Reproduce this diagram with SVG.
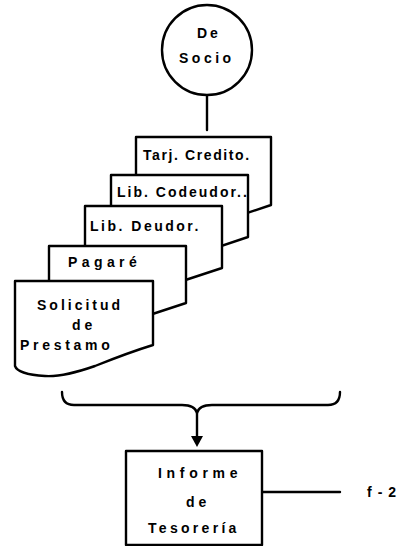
<svg xmlns="http://www.w3.org/2000/svg" width="403" height="546" viewBox="0 0 403 546">
  <style>
    .ln { fill: none; stroke: #000; stroke-width: 2.4; stroke-linejoin: round; stroke-linecap: round; }
    .shape { fill: #fff; stroke: #000; stroke-width: 2.4; stroke-linejoin: round; }
    .t { font-family: "Liberation Sans", Arial, sans-serif; font-weight: bold; font-size: 14px; fill: #000; }
  </style>
  <defs>
    <marker id="arrow" viewBox="0 0 12 10" refX="6" refY="10" markerWidth="12" markerHeight="10" markerUnits="userSpaceOnUse" orient="auto-start-reverse">
      <path d="M0,0 L12,0 L6,10 Z" fill="#000"/>
    </marker>
  </defs>
  <rect width="403" height="546" fill="#fff"/>

  <!-- connectors -->
  <g id="connectors">
    <line class="ln" x1="207" y1="95" x2="207" y2="130"/>
    <!-- brace gathering the documents -->
    <path class="ln" d="M62,392 Q62,405 74,405 L182,405 Q195,405 197,413 Q199,405 212,405 L328,405 Q340,405 340,392"/>
    <line class="ln" x1="197" y1="413" x2="197" y2="437"/>
    <path d="M191,436 L203,436 L197,447 Z" fill="#000"/>
    <line class="ln" x1="262" y1="492" x2="340" y2="492"/>
  </g>

  <!-- source -->
  <g id="socio">
    <circle class="shape" cx="207" cy="50" r="45"/>
    <text class="t" x="197" y="38" font-size="15" letter-spacing="3">De</text>
    <text class="t" x="179" y="63" font-size="15" letter-spacing="3.5">Socio</text>
  </g>

  <!-- stacked documents, back to front -->
  <g id="doc-tarjeta">
    <path class="shape" d="M136,137 H271 V205 L136,250 Z"/>
    <text class="t" x="143" y="160" letter-spacing="1.6">Tarj. Credito.</text>
  </g>
  <g id="doc-codeudor">
    <path class="shape" d="M111,175 H248 V237 L111,283 Z"/>
    <text class="t" x="117" y="197" letter-spacing="2">Lib. Codeudor..</text>
  </g>
  <g id="doc-deudor">
    <path class="shape" d="M85,206 H222 V268 L85,313 Z"/>
    <text class="t" x="90" y="231" letter-spacing="2.5">Lib. Deudor.</text>
  </g>
  <g id="doc-pagare">
    <path class="shape" d="M49,246 H186 V303 L49,348 Z"/>
    <text class="t" x="68" y="267" letter-spacing="4.4">Pagaré</text>
  </g>
  <g id="doc-solicitud">
    <path class="shape" d="M15,281 H153 V345 C140,349 120,356 95,366 C75,373 60,377 45,376 C28,375 17,372 15,366 Z"/>
    <text class="t" x="37" y="310" letter-spacing="3">Solicitud</text>
    <text class="t" x="72" y="330" letter-spacing="4">de</text>
    <text class="t" x="20" y="350" letter-spacing="3.7">Prestamo</text>
  </g>

  <!-- result -->
  <g id="informe">
    <rect class="shape" x="126" y="451" width="136" height="94"/>
    <text class="t" x="158" y="478" letter-spacing="4.7">Informe</text>
    <text class="t" x="186" y="507" letter-spacing="4">de</text>
    <text class="t" x="148" y="533" letter-spacing="3.3">Tesorería</text>
  </g>

  <g id="ref-f2">
    <text class="t" x="367" y="497" letter-spacing="6">f-2</text>
  </g>
</svg>
